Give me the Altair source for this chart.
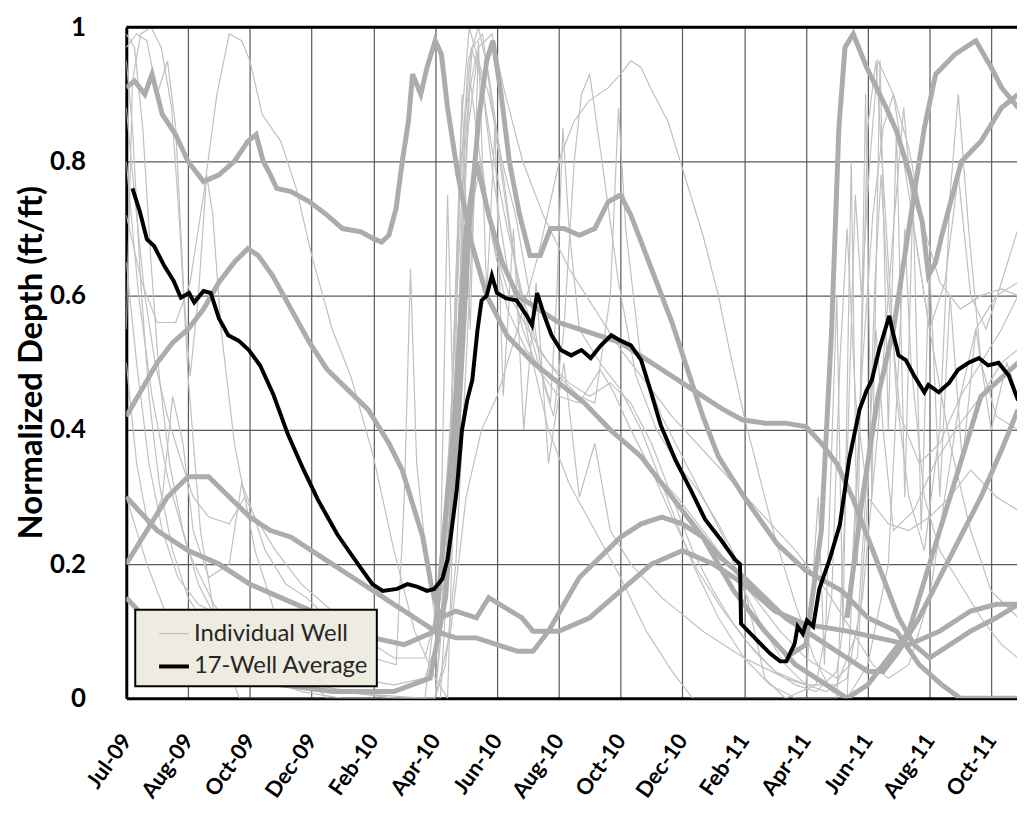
import json
import pandas as pd
import altair as alt

# x values are days since 1 Jul 2009; tick every 60 days
TICK_DAYS = [0, 60, 120, 180, 240, 300, 360, 420, 480, 540, 600, 660, 720, 780, 840]
TICK_LABELS = ["Jul-09", "Aug-09", "Oct-09", "Dec-09", "Feb-10", "Apr-10", "Jun-10",
               "Aug-10", "Oct-10", "Dec-10", "Feb-11", "Apr-11", "Jun-11", "Aug-11", "Oct-11"]
Y_TICKS = [0, 0.2, 0.4, 0.6, 0.8, 1]

AVERAGE = [(6,0.76),(13,0.726),(20,0.684),(27,0.674),(37,0.644),(46,0.622),(53,0.597),(61,0.604),
           (66,0.59),(75,0.607),(82,0.604),(90,0.566),(99,0.541),(109,0.533),(119,0.519),(130,0.496),
           (143,0.452),(157,0.393),(172,0.341),(186,0.296),(205,0.244),(225,0.2),(239,0.17),(249,0.16),
           (263,0.163),(273,0.17),(283,0.166),(292,0.16),(299,0.163),(307,0.178),(312,0.207),(316,0.252),
           (321,0.311),(326,0.4),(331,0.444),(336,0.474),(341,0.548),(345,0.593),(350,0.6),(355,0.63),
           (360,0.604),(369,0.596),(379,0.593),(389,0.57),(394,0.556),(399,0.604),(406,0.57),(413,0.541),
           (422,0.519),(432,0.511),(442,0.519),(451,0.507),(461,0.526),(471,0.541),(480,0.533),(490,0.526),
           (500,0.504),(509,0.459),(519,0.407),(533,0.356),(548,0.311),(562,0.267),(577,0.237),(591,0.207),
           (596,0.2),(597,0.111),(611,0.089),(625,0.067),(635,0.055),(641,0.055),(649,0.081),(652,0.107),
           (657,0.096),(661,0.116),(667,0.107),(673,0.163),(683,0.207),(693,0.259),(702,0.356),(712,0.43),
           (719,0.459),(724,0.474),(731,0.519),(741,0.57),(744,0.548),(750,0.511),(757,0.504),(765,0.481),
           (775,0.456),(779,0.467),(789,0.456),(799,0.47),(808,0.49),(818,0.5),(828,0.507),(837,0.496),
           (847,0.5),(857,0.481),(866,0.444)]

# thin individual wells
WELL_01 = [(0,0.55),(6,0.92),(14,0.99),(24,1.0),(34,0.97),(44,0.88),(52,0.7),(60,0.48),(72,0.25),(90,0.08),
           (110,0.0),(300,0.0),(312,0.25),(322,0.7),(332,0.95),(342,1.0),(352,0.93),(366,0.78),(380,0.62),
           (395,0.5),(410,0.4),(430,0.32),(455,0.25),(480,0.18),(505,0.1),(530,0.04),(550,0.0),(690,0.0),
           (700,0.35),(708,0.75),(714,0.6),(722,0.8),(730,0.95),(745,0.9),(760,0.75),(780,0.55),(800,0.38),
           (820,0.25),(840,0.16),(866,0.12)]
WELL_02 = [(0,0.97),(10,0.99),(20,0.98),(30,0.9),(40,0.95),(48,0.85),(56,0.6),(62,0.48),(70,0.6),(78,0.78),
           (84,0.72),(92,0.55),(105,0.38),(125,0.22),(150,0.1),(175,0.03),(195,0.0),(305,0.0),(318,0.35),
           (328,0.8),(336,0.97),(346,0.99),(358,0.85),(372,0.7),(386,0.58),(400,0.5),(412,0.44),(418,0.6),
           (424,0.85),(430,0.7),(440,0.55),(460,0.5),(480,0.46),(500,0.4),(525,0.3),(550,0.2),(575,0.12),
           (600,0.06),(625,0.02),(650,0.0),(700,0.0),(712,0.4),(720,0.85),(728,0.95),(738,0.7),(748,0.45),
           (760,0.3),(775,0.22),(790,0.4),(800,0.75),(808,0.9),(818,0.7),(830,0.5),(845,0.42),(866,0.4)]
WELL_03 = [(0,0.72),(15,0.62),(30,0.56),(48,0.56),(62,0.62),(75,0.75),(88,0.9),(100,0.99),(112,0.98),
           (120,0.95),(132,0.87),(150,0.83),(165,0.76),(180,0.66),(200,0.55),(218,0.48),(240,0.36),(260,0.22),
           (280,0.1),(300,0.03),(312,0.0),(318,0.3),(326,0.7),(334,0.92),(344,0.8),(356,0.68),(372,0.6),
           (390,0.55),(410,0.5),(430,0.47),(450,0.45),(470,0.47),(490,0.44),(510,0.38),(530,0.3),(550,0.22),
           (570,0.16),(590,0.11),(610,0.07),(630,0.04),(650,0.02),(670,0.01),(690,0.04),(705,0.2),(715,0.5),
           (725,0.72),(735,0.85),(745,0.9),(760,0.82),(775,0.7),(790,0.62),(810,0.58),(830,0.6),(850,0.61),
           (866,0.6)]
WELL_08 = [(0,0.3),(20,0.2),(40,0.12),(60,0.08),(90,0.05),(130,0.03),(200,0.01),(290,0.0),(305,0.2),
           (312,0.75),(318,0.4),(326,0.9),(334,0.55),(342,0.98),(350,0.6),(358,0.85),(366,0.45),(376,0.7),
           (386,0.4),(398,0.62),(410,0.35),(425,0.5),(440,0.3),(455,0.38),(470,0.25),(490,0.2),(520,0.15),
           (560,0.1),(600,0.06),(640,0.03),(660,0.02),(672,0.3),(678,0.05),(690,0.6),(696,0.1),(704,0.8),
           (710,0.2),(718,0.9),(724,0.3),(732,0.95),(740,0.4),(748,0.85),(756,0.3),(764,0.75),(772,0.25),
           (780,0.65),(790,0.3),(800,0.6),(812,0.35),(825,0.55),(840,0.4),(855,0.5),(866,0.45)]
WELL_12 = [(0,0.8),(12,0.6),(25,0.45),(40,0.33),(60,0.22),(85,0.14),(110,0.09),(140,0.05),(170,0.03),
           (210,0.01),(260,0.0),(300,0.0),(315,0.1),(330,0.3),(345,0.4),(360,0.45),(380,0.55),(400,0.66),
           (422,0.81),(435,0.86),(449,0.89),(468,0.91),(480,0.93),(490,0.95),(500,0.94),(509,0.91),(526,0.86),
           (538,0.8),(550,0.74),(560,0.69),(575,0.6),(587,0.51),(600,0.42),(615,0.33),(630,0.24),(650,0.14),
           (668,0.06),(685,0.01),(700,0.0),(720,0.05),(740,0.2),(750,0.5),(756,0.7),(762,0.5),(775,0.3),
           (790,0.22),(810,0.17),(830,0.12),(850,0.08),(866,0.06)]
WELL_13 = [(0,0.65),(10,0.5),(22,0.35),(35,0.25),(50,0.18),(70,0.14),(95,0.12),(120,0.1),(150,0.07),
           (180,0.05),(220,0.03),(260,0.02),(290,0.03),(305,0.1),(315,0.4),(325,0.8),(335,0.97),(345,0.92),
           (356,0.78),(370,0.64),(385,0.55),(400,0.49),(420,0.45),(440,0.44),(460,0.49),(472,0.46),(490,0.4),
           (510,0.34),(530,0.27),(555,0.19),(580,0.13),(605,0.08),(630,0.04),(660,0.02),(690,0.02),(710,0.1),
           (720,0.35),(728,0.55),(735,0.4),(745,0.25),(765,0.28),(785,0.35),(805,0.4),(830,0.45),(850,0.5),
           (866,0.52)]
WELL_14 = [(0,0.88),(8,0.75),(18,0.6),(28,0.5),(40,0.42),(52,0.36),(65,0.3),(80,0.27),(100,0.26),(115,0.3),
           (125,0.27),(145,0.22),(170,0.17),(200,0.13),(230,0.09),(260,0.06),(290,0.06),(305,0.15),(318,0.5),
           (330,0.88),(340,0.96),(352,0.9),(365,0.8),(378,0.72),(392,0.6),(405,0.47),(415,0.42),(425,0.55),
           (435,0.8),(442,0.9),(450,0.93),(462,0.8),(478,0.62),(495,0.48),(515,0.4),(535,0.35),(555,0.31),
           (575,0.26),(595,0.2),(610,0.1),(620,0.03),(640,0.0),(670,0.02),(685,0.15),(693,0.5),(700,0.7),
           (708,0.45),(720,0.3),(740,0.26),(760,0.25),(780,0.27),(800,0.3),(820,0.34),(845,0.3),(866,0.28)]
WELL_15 = [(0,0.5),(10,0.35),(22,0.25),(35,0.3),(45,0.45),(55,0.38),(65,0.25),(80,0.18),(100,0.2),(112,0.32),
           (120,0.29),(135,0.22),(155,0.17),(175,0.15),(195,0.12),(215,0.09),(240,0.06),(262,0.05),(270,0.3),
           (276,0.64),(282,0.35),(292,0.2),(300,0.12),(315,0.4),(325,0.85),(333,1.0),(342,0.95),(355,0.82),
           (370,0.7),(385,0.6),(400,0.52),(420,0.48),(440,0.45),(455,0.44),(470,0.6),(478,0.88),(485,0.7),
           (500,0.5),(520,0.42),(540,0.36),(560,0.3),(580,0.24),(600,0.16),(620,0.1),(640,0.05),(660,0.02),
           (680,0.01),(700,0.03),(715,0.15),(730,0.4),(745,0.7),(755,0.88),(765,0.7),(780,0.55),(795,0.62),
           (808,0.78),(820,0.6),(835,0.55),(850,0.62),(866,0.7)]
WELL_16 = [(0,0.99),(8,0.97),(16,0.85),(24,0.65),(32,0.48),(42,0.35),(55,0.25),(70,0.17),(90,0.11),
           (115,0.07),(145,0.04),(180,0.02),(220,0.01),(260,0.0),(300,0.0),(312,0.2),(322,0.55),(332,0.85),
           (342,0.97),(355,0.99),(368,0.9),(385,0.8),(405,0.72),(430,0.64),(455,0.58),(480,0.52),(505,0.47),
           (530,0.42),(560,0.37),(590,0.32),(620,0.27),(650,0.22),(680,0.16),(705,0.1),(725,0.05),(740,0.03),
           (760,0.05),(780,0.15),(795,0.3),(810,0.45),(825,0.55),(845,0.6),(866,0.62)]
WELL_17 = [(0,0.95),(6,0.85),(14,0.62),(22,0.45),(32,0.32),(45,0.22),(60,0.15),(80,0.1),(105,0.06),
           (135,0.03),(170,0.01),(210,0.0),(300,0.0),(310,0.05),(320,0.2),(330,0.5),(338,0.75),(345,0.8),
           (356,0.68),(370,0.58),(388,0.52),(410,0.48),(435,0.45),(460,0.42),(485,0.38),(510,0.34),(535,0.3),
           (560,0.25),(585,0.2),(610,0.15),(635,0.1),(660,0.06),(690,0.03),(710,0.06),(720,0.3),(727,0.62),
           (733,0.78),(740,0.6),(752,0.42),(770,0.35),(790,0.38),(810,0.45),(830,0.5),(850,0.55),(866,0.6)]

# wells drawn as wide noisy bands
WELL_04 = [(0,0.91),(8,0.92),(18,0.9),(25,0.93),(35,0.87),(48,0.84),(60,0.8),(75,0.77),(90,0.78),(105,0.8),
           (118,0.83),(126,0.84),(133,0.8),(140,0.78),(146,0.76),(160,0.755),(178,0.74),(195,0.72),(210,0.7),
           (228,0.695),(240,0.685),(248,0.68),(255,0.69),(262,0.73),(268,0.8),(274,0.86),(278,0.93),(286,0.9),
           (292,0.94),(300,0.98),(306,0.96),(312,0.88),(322,0.78),(335,0.68),(350,0.6),(370,0.54),(395,0.5),
           (420,0.47),(445,0.44),(470,0.4),(500,0.36),(530,0.3),(560,0.24),(590,0.16),(620,0.1),(650,0.05),
           (680,0.02),(700,0.0),(720,0.02),(760,0.1),(800,0.3),(830,0.45),(866,0.5)]
WELL_05 = [(0,0.42),(15,0.46),(30,0.5),(45,0.53),(60,0.55),(75,0.58),(90,0.62),(105,0.65),(118,0.67),
           (128,0.66),(142,0.63),(160,0.58),(178,0.53),(195,0.49),(215,0.46),(235,0.43),(255,0.38),(268,0.34),
           (278,0.29),(288,0.24),(296,0.17),(305,0.12),(320,0.13),(340,0.12),(352,0.15),(384,0.12),(395,0.1),
           (420,0.1),(450,0.12),(480,0.16),(510,0.2),(540,0.22),(570,0.2),(600,0.17),(630,0.13),(660,0.11),
           (700,0.1),(730,0.09),(760,0.08),(790,0.1),(820,0.13),(845,0.14),(866,0.14)]
WELL_06 = [(0,0.2),(20,0.25),(40,0.3),(60,0.33),(80,0.33),(100,0.3),(120,0.27),(140,0.25),(160,0.24),
           (180,0.22),(200,0.2),(220,0.18),(240,0.16),(260,0.14),(280,0.12),(300,0.1),(320,0.09),(340,0.09),
           (360,0.08),(380,0.07),(395,0.07),(410,0.1),(425,0.14),(440,0.18),(460,0.21),(480,0.24),(500,0.26),
           (520,0.27),(540,0.26),(560,0.24),(577,0.21),(600,0.18),(620,0.15),(640,0.12),(660,0.1),(680,0.08),
           (700,0.06),(720,0.04),(735,0.04),(750,0.07),(770,0.12),(790,0.18),(810,0.24),(830,0.3),(850,0.37),
           (866,0.43)]
WELL_07 = [(0,0.15),(30,0.1),(60,0.06),(100,0.03),(150,0.02),(200,0.01),(260,0.01),(295,0.03),(310,0.15),
           (322,0.4),(333,0.7),(342,0.86),(350,0.95),(356,0.98),(364,0.9),(372,0.8),(382,0.72),(392,0.66),
           (402,0.66),(412,0.7),(425,0.7),(440,0.69),(455,0.7),(468,0.74),(480,0.75),(490,0.72),(500,0.68),
           (515,0.62),(530,0.56),(545,0.49),(560,0.42),(575,0.36),(600,0.3),(632,0.23),(660,0.19),(695,0.16),
           (720,0.12),(748,0.1),(770,0.05),(792,0.02),(810,0.0),(866,0.0)]
WELL_09 = [(0,0.3),(30,0.25),(60,0.22),(90,0.2),(120,0.17),(150,0.15),(180,0.13),(210,0.11),(240,0.09),
           (270,0.08),(300,0.1),(318,0.4),(330,0.7),(340,0.8),(352,0.72),(365,0.65),(380,0.6),(400,0.58),
           (420,0.56),(440,0.55),(460,0.54),(480,0.53),(500,0.51),(520,0.49),(540,0.47),(560,0.45),(580,0.43),
           (598,0.415),(620,0.41),(640,0.41),(660,0.405),(675,0.38),(690,0.35),(705,0.3),(720,0.24),(735,0.18),
           (750,0.12),(765,0.08),(780,0.06),(800,0.08),(820,0.1),(845,0.12),(866,0.14)]
WELL_10 = [(640,0.06),(660,0.08),(675,0.25),(685,0.55),(692,0.85),(698,0.97),(706,0.99),(719,0.94),
           (738,0.88),(748,0.845),(760,0.785),(773,0.71),(779,0.63),(786,0.65),(792,0.69),(811,0.8),
           (830,0.83),(850,0.88),(866,0.9)]
WELL_11 = [(700,0.12),(715,0.3),(730,0.45),(745,0.55),(760,0.7),(775,0.85),(786,0.93),(805,0.96),
           (825,0.98),(840,0.94),(850,0.91),(866,0.88)]

THIN = {"W01": WELL_01, "W02": WELL_02, "W03": WELL_03, "W08": WELL_08, "W12": WELL_12,
        "W13": WELL_13, "W14": WELL_14, "W15": WELL_15, "W16": WELL_16, "W17": WELL_17}
THICK = {"W04": WELL_04, "W05": WELL_05, "W06": WELL_06, "W07": WELL_07, "W09": WELL_09,
         "W10": WELL_10, "W11": WELL_11}

SERIES = ["Individual Well", "17-Well Average"]


def frame(wells, series):
    rows = []
    for name, pts in wells.items():
        for d, v in pts:
            rows.append({"well": name, "day": d, "depth": v, "series": series})
    return pd.DataFrame(rows)


thin_df = frame(THIN, SERIES[0])
thick_df = frame(THICK, SERIES[0])
avg_df = frame({"AVG": AVERAGE}, SERIES[1])
top_df = pd.DataFrame({"depth": [1]})

label_expr = json.dumps(TICK_LABELS) + "[round(datum.value / 60)]"

x_enc = alt.X("day:Q",
              scale=alt.Scale(domain=[0, 865], nice=False, zero=False),
              axis=alt.Axis(values=TICK_DAYS, labelExpr=label_expr, title=None,
                            labelAngle=305, labelAlign="right", labelBaseline="middle",
                            labelPadding=38, labelFontSize=22, labelOverlap=False,
                            grid=True, ticks=False))
y_enc = alt.Y("depth:Q",
              scale=alt.Scale(domain=[0, 1], nice=False),
              axis=alt.Axis(values=Y_TICKS, format="~g", title="Normalized Depth (ft/ft)",
                            labelFontSize=26, labelPadding=41, titleFontSize=33,
                            titleX=-95, titleY=337, titleAngle=270, titleAlign="center",
                            titleBaseline="middle",
                            grid=True, ticks=False))

legend = alt.Legend(title=None, orient="none", legendX=9, legendY=586,
                    fillColor="#eeece1", strokeColor="#000000",
                    padding=8, rowPadding=4, symbolType="stroke", symbolSize=900,
                    symbolOffset=14, labelFontSize=24, labelFont="Lato", labelLimit=400,
                    labelColor="#262626", labelOffset=3)
color_enc = alt.Color("series:N", scale=alt.Scale(domain=SERIES, range=["#c0c0c0", "#000000"]),
                      legend=legend)
width_enc = alt.StrokeWidth("series:N", scale=alt.Scale(domain=SERIES, range=[1.2, 4]),
                            legend=legend)

thin = alt.Chart(thin_df).mark_line(clip=True).encode(
    x=x_enc, y=y_enc, detail="well:N", color=color_enc, strokeWidth=width_enc, order="day:Q")
thick = alt.Chart(thick_df).mark_line(clip=True, color="#acacac", strokeWidth=5).encode(
    x=x_enc, y=y_enc, detail="well:N", order="day:Q")
avg = alt.Chart(avg_df).mark_line(clip=True).encode(
    x=x_enc, y=y_enc, color=color_enc, strokeWidth=width_enc, order="day:Q")
top = alt.Chart(top_df).mark_rule(color="#000000", strokeWidth=3).encode(y=alt.Y("depth:Q"))

chart = alt.layer(thin, thick, avg, top).properties(
    width=896, height=675,
    padding={"left": 119, "top": 17, "right": 0, "bottom": 107},
    autosize=alt.AutoSizeParams(type="none"),
).configure_view(stroke=None).configure_axis(
    gridColor="#5a5a5a", gridWidth=1.2, domainColor="#000000", domainWidth=3,
    labelFont="Lato", labelFontWeight="bold", labelColor="#000000",
    titleFont="Lato", titleFontWeight="bold", titleColor="#000000",
).configure_legend(strokeWidth=2)

chart.save("out.html", embed_options={"renderer": "svg", "actions": False})
